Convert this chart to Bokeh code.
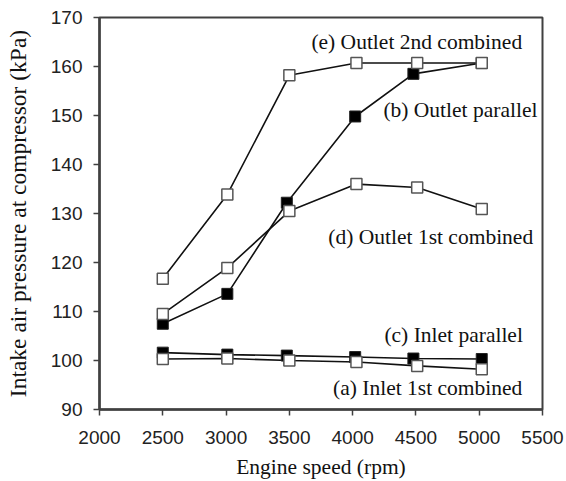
from bokeh.plotting import figure
from bokeh.models import Range1d, FixedTicker, ColumnDataSource
from bokeh.core.properties import value
from bokeh.embed import file_html
from bokeh.resources import INLINE

# ---- data ----
x_ticks = [2000, 2500, 3000, 3500, 4000, 4500, 5000, 5500]
y_ticks = [90, 100, 110, 120, 130, 140, 150, 160, 170]

x_black = [2500, 3010, 3480, 4020, 4480, 5020]
x_white = [2500, 3010, 3500, 4030, 4510, 5020]

inlet_parallel = [101.6, 101.2, 101.0, 100.7, 100.4, 100.3]          # (c) filled
inlet_1st_combined = [100.3, 100.4, 100.0, 99.7, 98.9, 98.2]          # (a) open
outlet_parallel = [107.5, 113.6, 132.2, 149.8, 158.5, 160.7]          # (b) filled
outlet_1st_combined = [109.5, 118.9, 130.5, 136.0, 135.3, 130.9]      # (d) open
outlet_2nd_combined = [116.7, 133.9, 158.2, 160.7, 160.7, 160.7]      # (e) open

label_texts = ["(e) Outlet 2nd combined", "(b) Outlet parallel", "(d) Outlet 1st combined",
               "(c) Inlet parallel", "(a) Inlet 1st combined"]
label_x = [3674, 4243, 3808, 4251, 3845]
label_y = [165.0, 151.1, 125.3, 105.2, 94.4]

serif = "Liberation Serif"
sans = "Liberation Sans"

p = figure(width=566, height=481, min_border_left=99, min_border_right=24,
           min_border_top=17, min_border_bottom=71,
           x_range=Range1d(2000, 5500), y_range=Range1d(90, 170),
           output_backend="svg", toolbar_location=None)

p.xgrid.visible = False
p.ygrid.visible = False
p.outline_line_color = "#404040"
p.outline_line_width = 2
p.background_fill_color = "white"
p.border_fill_color = "white"

for ax in (p.xaxis[0], p.yaxis[0]):
    ax.axis_line_color = "#404040"
    ax.axis_line_width = 2.5
    ax.major_tick_line_color = "#404040"
    ax.major_tick_line_width = 1.5
    ax.major_tick_out = 6
    ax.major_tick_in = 0
    ax.minor_tick_line_color = None
    ax.major_label_text_font = sans
    ax.major_label_text_font_size = "19px"
    ax.major_label_text_color = "#222222"
    ax.axis_label_text_font = serif
    ax.axis_label_text_font_style = "normal"
    ax.axis_label_text_color = "#111111"

p.xaxis.axis_label_text_font_size = "21.5px"
p.yaxis.axis_label_text_font_size = "23.5px"
p.xaxis.ticker = FixedTicker(ticks=x_ticks)
p.yaxis.ticker = FixedTicker(ticks=y_ticks)
p.xaxis.axis_label = "Engine speed (rpm)"
p.yaxis.axis_label = "Intake air pressure at compressor (kPa)"
p.xaxis.major_label_standoff = 15
p.yaxis.major_label_standoff = 11
p.xaxis.axis_label_standoff = 8
p.yaxis.axis_label_standoff = 17

series = [
    (x_black, inlet_parallel, "black"),
    (x_white, inlet_1st_combined, "white"),
    (x_black, outlet_parallel, "black"),
    (x_white, outlet_1st_combined, "white"),
    (x_white, outlet_2nd_combined, "white"),
]

sources = [ColumnDataSource(dict(x=xs, y=ys)) for xs, ys, _ in series]
for src in sources:
    p.line("x", "y", source=src, line_color="#111111", line_width=1.6)
for src, (_, _, fill) in zip(sources, series):
    if fill == "black":
        p.scatter("x", "y", source=src, marker="square", size=11,
                  fill_color="black", line_color="#222222", line_width=1)
for src, (_, _, fill) in zip(sources, series):
    if fill == "white":
        p.scatter("x", "y", source=src, marker="square", size=11,
                  fill_color="white", line_color="#555555", line_width=1.5)

lab = ColumnDataSource(dict(x=label_x, y=label_y, t=label_texts))
p.text("x", "y", text="t", source=lab, text_font=value(serif), text_font_size="21.5px",
       text_align="left", text_baseline="middle", text_color="#111111")

open("out.html", "w").write(file_html(p, INLINE))
